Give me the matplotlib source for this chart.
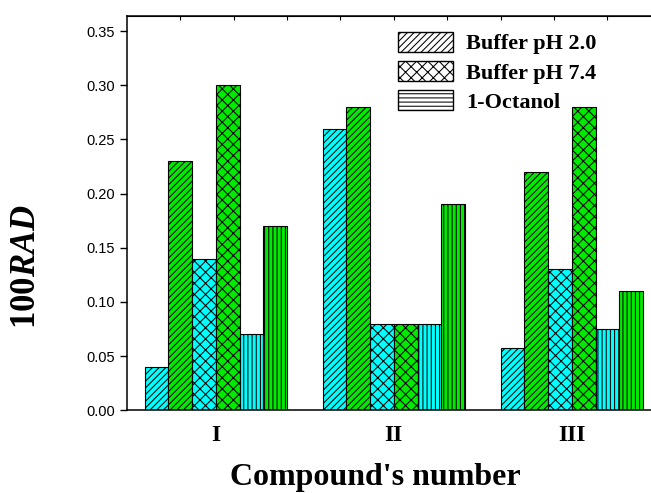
import numpy as np
import matplotlib
matplotlib.use('Agg')
import matplotlib.pyplot as plt
from matplotlib.patches import Patch

plt.rcParams['mathtext.fontset'] = 'custom'
plt.rcParams['mathtext.it'] = 'Liberation Serif:italic:bold'
plt.rcParams['mathtext.rm'] = 'Liberation Serif:bold'
plt.rcParams['hatch.linewidth'] = 0.75

#%% data

compounds = ['I', 'II', 'III']
series_names = ['Buffer pH 2.0', 'Buffer pH 7.4', '1-Octanol']

# two bars (cyan, green) per medium, in the order they are drawn
ph20_cyan = [0.04, 0.26, 0.057]
ph20_green = [0.23, 0.28, 0.22]
ph74_cyan = [0.14, 0.08, 0.13]
ph74_green = [0.30, 0.08, 0.28]
oct_cyan = [0.07, 0.08, 0.075]
oct_green = [0.17, 0.19, 0.11]

yticks = [0.00, 0.05, 0.10, 0.15, 0.20, 0.25, 0.30, 0.35]

#%% plot

cyan = '#00FFFF'
green = '#00EA00'
series = [(ph20_cyan, cyan, '/////'), (ph20_green, green, '/////'),
          (ph74_cyan, cyan, 'xxx'), (ph74_green, green, 'xxx'),
          (oct_cyan, cyan, '||||'), (oct_green, green, '||||')]

fig = plt.figure(figsize=(6.51, 4.93), dpi=100)
ax = fig.add_axes([0.195, 0.168, 0.820, 0.7995])

x = np.arange(1, len(compounds) + 1)
w = 0.8 / 6
for i, (vals, col, hatch) in enumerate(series):
    ax.bar(x - 0.4 + w * (i + 0.5), vals, w, color=col, hatch=hatch,
           edgecolor='black', linewidth=0.8)

ax.set_xlim(0.5, 3.5)
ax.set_ylim(0, 0.364)
ax.set_yticks(yticks)
ax.set_yticklabels(['%.2f' % t for t in yticks], fontfamily='Liberation Sans', fontsize=10.5)
ax.tick_params(axis='y', direction='out', length=5, width=1)
ax.set_xticks(x)
ax.set_xticklabels(compounds, fontfamily='Liberation Serif', fontweight='bold', fontsize=17)
ax.tick_params(axis='x', length=0, pad=11)
for s in ax.spines.values():
    s.set_linewidth(1.1)

top = ax.secondary_xaxis('top')
top.set_xticks(np.arange(0.8, 3.6, 0.3))
top.set_xticklabels([])
top.tick_params(direction='in', length=3, width=0.8)

ax.set_ylabel('100$\\mathit{RAD}$', fontfamily='Liberation Serif', fontweight='bold', fontsize=25)
ax.yaxis.set_label_coords(-0.158, 0.363)
ax.set_xlabel("Compound's number", fontfamily='Liberation Serif', fontweight='bold', fontsize=23)
ax.xaxis.set_label_coords(0.465, -0.135)

handles = [Patch(facecolor='white', edgecolor='black', hatch='/////'),
           Patch(facecolor='white', edgecolor='black', hatch='xxx'),
           Patch(facecolor='white', edgecolor='black', hatch='----')]
ax.legend(handles, series_names, loc='upper left', bbox_to_anchor=(0.507, 0.96),
          frameon=False, borderpad=0, borderaxespad=0, handlelength=2.5, handleheight=1.0,
          handletextpad=0.6, labelspacing=0.3,
          prop={'family': 'Liberation Serif', 'weight': 'bold', 'size': 16})

plt.savefig('out.png', dpi=100)
plt.close()
